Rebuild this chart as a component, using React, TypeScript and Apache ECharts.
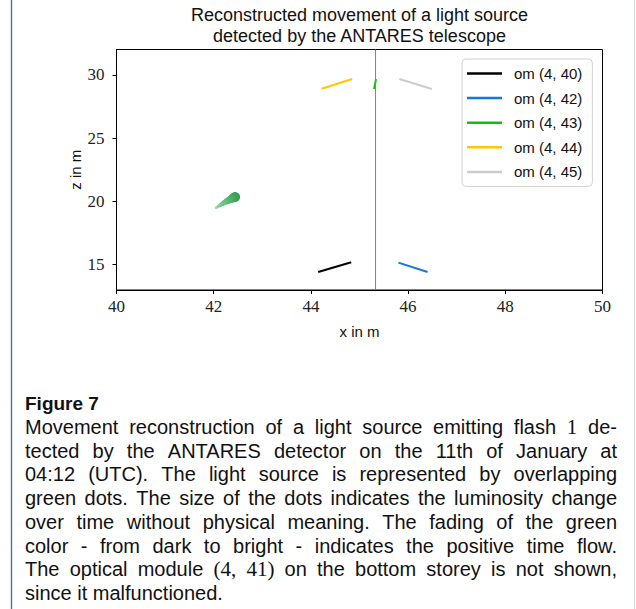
import React, { useEffect, useRef } from "react";
import * as echarts from "echarts";

// ---- data ----
const xTicks = [40, 42, 44, 46, 48, 50];
const zTicks = [15, 20, 25, 30];

const omNames = ["om (4, 40)", "om (4, 42)", "om (4, 43)", "om (4, 44)", "om (4, 45)"];
const omX = [
  [44.15, 44.83],
  [45.8, 46.4],
  [45.3, 45.34],
  [44.22, 44.85],
  [45.82, 46.49],
];
const omZ = [
  [14.42, 15.19],
  [15.16, 14.42],
  [28.88, 29.67],
  [28.9, 29.67],
  [29.67, 28.88],
];
const omColors = ["#000000", "#1677e0", "#10c010", "#ffc800", "#cccccc"];

const stringX = 45.33;
const zRange = [13, 32];

// light source track, from first (dark, large) to last (bright, small)
const trackX = [42.44, 42.42, 42.39, 42.37, 42.33, 42.31, 42.27, 42.25, 42.21, 42.19, 42.15, 42.13, 42.1, 42.07, 42.05];
const trackZ = [20.35, 20.31, 20.27, 20.2, 20.15, 20.08, 20.03, 19.95, 19.9, 19.82, 19.76, 19.68, 19.63, 19.55, 19.5];
const trackSize = [10, 9.4, 8.6, 7.9, 7.2, 6.7, 6.1, 5.6, 5.1, 4.6, 4.1, 3.6, 3.2, 2.8, 2.5];

const titleText = "Reconstructed movement of a light source\ndetected by the ANTARES telescope";
const figureLabel = "Figure 7";
const captionLines = [
  "Movement reconstruction of a light source emitting flash $1$ de-",
  "tected by the ANTARES detector on the 11th of January at",
  "04:12 (UTC). The light source is represented by overlapping",
  "green dots. The size of the dots indicates the luminosity change",
  "over time without physical meaning. The fading of the green",
  "color - from dark to bright - indicates the positive time flow.",
  "The optical module $(4,$ $41)$ on the bottom storey is not shown,",
  "since it malfunctioned.",
];

const SANS = "Liberation Sans";
const SERIF = "Liberation Serif";

function mixColor(a: string, b: string, t: number) {
  const pa = [1, 3, 5].map((i) => parseInt(a.slice(i, i + 2), 16));
  const pb = [1, 3, 5].map((i) => parseInt(b.slice(i, i + 2), 16));
  const c = pa.map((v, i) => Math.round(v + (pb[i] - v) * t));
  return "rgb(" + c.join(",") + ")";
}

function buildCaption(): any[] {
  const canvas = document.createElement("canvas");
  const ctx = canvas.getContext("2d") as CanvasRenderingContext2D;
  const fs = 20;
  const sansFont = `${fs}px "${SANS}"`;
  const serifFont = `${fs + 1}px "${SERIF}"`;
  const left = 25;
  const right = 617;
  const top0 = 427;
  const lh = 23.7;
  const els: any[] = [];
  captionLines.forEach((line, li) => {
    const toks = line.split(" ").map((t) => {
      const serif = t.startsWith("$") && t.endsWith("$");
      return { text: serif ? t.slice(1, -1) : t, serif };
    });
    const widths = toks.map((t) => {
      ctx.font = t.serif ? serifFont : sansFont;
      return ctx.measureText(t.text).width;
    });
    const sum = widths.reduce((a, b) => a + b, 0);
    ctx.font = sansFont;
    const last = li === captionLines.length - 1;
    const gap = last || toks.length < 2 ? ctx.measureText(" ").width : (right - left - sum) / (toks.length - 1);
    let x = left;
    toks.forEach((t, i) => {
      els.push({
        type: "text",
        x,
        y: top0 + li * lh,
        silent: true,
        style: {
          text: t.text,
          fontSize: t.serif ? fs + 1 : fs,
          fontFamily: t.serif ? SERIF : SANS,
          fill: "#111",
          align: "left",
          verticalAlign: "middle",
        },
      });
      x += widths[i] + gap;
    });
  });
  return els;
}

export default function App() {
  const ref = useRef<HTMLDivElement>(null);
  useEffect(() => {
    if (!ref.current) return;
    const chart = echarts.init(ref.current, null, { renderer: "svg" });

    const omSeries = omNames.map((name, i) => ({
      name,
      type: "line",
      data: omX[i].map((x, j) => [x, omZ[i][j]]),
      showSymbol: false,
      symbol: "none",
      silent: true,
      z: 3,
      lineStyle: { width: 2, color: omColors[i] },
      itemStyle: { color: omColors[i] },
      emphasis: { disabled: true },
    }));

    const n = trackX.length;
    const trackData = trackX.map((x, i) => ({
      value: [x, trackZ[i]],
      symbolSize: trackSize[i],
      itemStyle: { color: mixColor("#2f9e4e", "#8fd89f", i / (n - 1)), opacity: 1 },
    }));

    const serifRich = {
      t: { fontFamily: SERIF, fontSize: 17, color: "#222" },
    };

    const option: any = {
      animation: false,
      backgroundColor: "#ffffff",
      textStyle: { fontFamily: SERIF },
      grid: {
        left: 116.5,
        right: 33.5,
        top: 49.5,
        bottom: 319,
        show: true,
        borderColor: "#000",
        borderWidth: 1,
        containLabel: false,
        outerBoundsMode: "none",
      },
      xAxis: {
        type: "value",
        min: xTicks[0],
        max: xTicks[xTicks.length - 1],
        interval: xTicks[1] - xTicks[0],
        name: "x in m",
        nameLocation: "middle",
        nameGap: 34,
        nameMoveOverlap: false,
        nameTextStyle: { fontFamily: SANS, fontSize: 15, color: "#111" },
        axisLine: { show: true, onZero: false, lineStyle: { color: "#000", width: 1 } },
        axisTick: { show: true, inside: false, length: 4, lineStyle: { color: "#000" } },
        axisLabel: {
          fontFamily: SERIF,
          fontSize: 17,
          color: "#222",
          margin: 8,
          formatter: (v: number) => `{t|${v}}`,
          rich: serifRich,
        },
        splitLine: { show: false },
      },
      yAxis: {
        type: "value",
        min: zRange[0],
        max: zRange[1],
        name: "z in m",
        nameLocation: "middle",
        nameGap: 34,
        nameMoveOverlap: false,
        nameRotate: 90,
        nameTextStyle: { fontFamily: SANS, fontSize: 15, color: "#111" },
        axisLine: { show: true, onZero: false, lineStyle: { color: "#000", width: 1 } },
        axisTick: { show: true, inside: false, length: 4, lineStyle: { color: "#000" }, customValues: zTicks },
        axisLabel: {
          fontFamily: SERIF,
          fontSize: 17,
          color: "#222",
          margin: 12,
          customValues: zTicks,
          formatter: (v: number) => `{t|${v}}`,
          rich: serifRich,
        },
        splitLine: { show: false },
      },
      legend: {
        data: omNames,
        orient: "vertical",
        left: 462,
        top: 59,
        padding: [6, 10, 6, 5],
        itemWidth: 35,
        itemHeight: 2.5,
        itemGap: 7.6,
        icon: "rect",
        backgroundColor: "#ffffff",
        borderColor: "#d0d0d0",
        borderWidth: 1,
        borderRadius: 4,
        selectedMode: false,
        textStyle: { fontFamily: SANS, fontSize: 15, color: "#111", lineHeight: 17, padding: [0, 0, 0, 7] },
      },
      series: [
        {
          name: "string",
          type: "line",
          data: [
            [stringX, zRange[0]],
            [stringX, zRange[1]],
          ],
          showSymbol: false,
          symbol: "none",
          silent: true,
          z: 4,
          lineStyle: { width: 1, color: "#808080" },
        },
        ...omSeries,
        {
          name: "light source",
          type: "scatter",
          data: trackData,
          silent: true,
          z: 5,
        },
      ],
      graphic: [
        {
          type: "line",
          silent: true,
          shape: { x1: 11.5, y1: 0, x2: 11.5, y2: 609 },
          style: { stroke: "#4f72a3", lineWidth: 1.4 },
        },
        {
          type: "line",
          silent: true,
          shape: { x1: 634.5, y1: 0, x2: 634.5, y2: 609 },
          style: { stroke: "#cfd3da", lineWidth: 1 },
        },
        {
          type: "text",
          x: 359.5,
          y: 4,
          silent: true,
          style: {
            text: titleText,
            fontFamily: SANS,
            fontSize: 18,
            lineHeight: 21,
            fill: "#111",
            align: "center",
            verticalAlign: "top",
          },
        },
        {
          type: "text",
          x: 25,
          y: 403,
          silent: true,
          style: {
            text: figureLabel,
            fontFamily: SANS,
            fontSize: 19,
            fontWeight: "bold",
            fill: "#111",
            align: "left",
            verticalAlign: "middle",
          },
        },
        ...buildCaption(),
      ],
    };
    chart.setOption(option);
    return () => chart.dispose();
  }, []);
  return (
    <div
      ref={ref}
      style={{ position: "absolute", left: 0, top: 0, width: 636, height: 609, background: "#fff" }}
    />
  );
}
